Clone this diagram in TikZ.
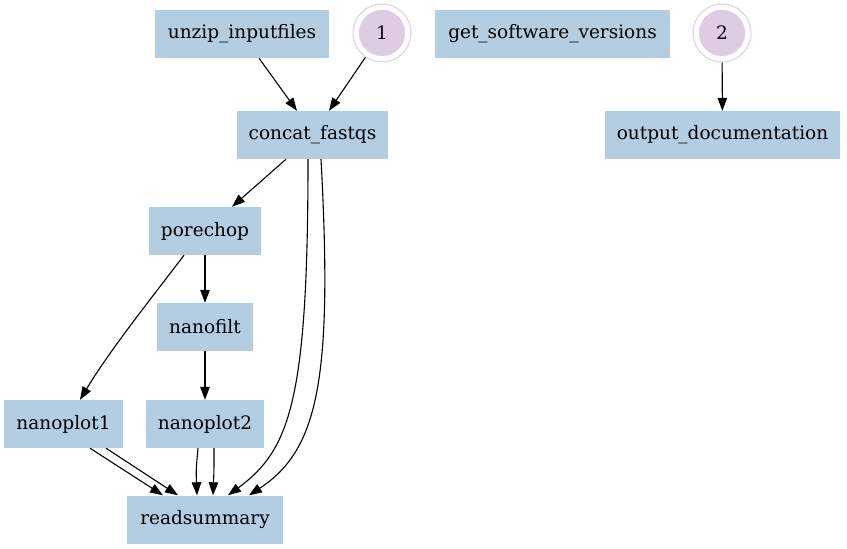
\documentclass[tikz,border=0pt]{standalone}
\usepackage{fontspec}
\setmainfont{DejaVu Serif}
\usetikzlibrary{arrows.meta}
\definecolor{boxblue}{HTML}{B3CDE3}
\definecolor{circpurple}{HTML}{DECBE4}
\begin{document}
\begin{tikzpicture}[x=1pt,y=-1pt,
  task/.style={fill=boxblue,draw=none,inner sep=0pt,minimum height=48pt,font=\fontsize{18.5}{20}\selectfont},
  inp/.style={circle,fill=circpurple,draw=white,line width=1.5pt,minimum size=48pt,inner sep=0pt,font=\fontsize{18.5}{20}\selectfont},
  ring/.style={circle,draw=circpurple,line width=1pt,minimum size=58pt,inner sep=0pt},
  edge/.style={-{Triangle[length=13pt,width=9.5pt]},line width=1.1pt}]
\useasboundingbox (0,0) rectangle (847,549);
\node[task,minimum width=174pt] (unzip) at (242,34) {unzip\_inputfiles};
\node[ring] (r1) at (382,33) {};
\node[inp] (c1) at (382,33) {1};
\node[task,minimum width=235pt] (gsv) at (552.5,34) {get\_software\_versions};
\node[ring] (r2) at (722,33) {};
\node[inp] (c2) at (722,33) {2};
\node[task,minimum width=151pt] (concat) at (312.5,135) {concat\_fastqs};
\node[task,minimum width=235pt] (outdoc) at (722.5,135) {output\_documentation};
\node[task,minimum width=112pt] (porechop) at (205,231) {porechop};
\node[task,minimum width=96pt] (nanofilt) at (205,327) {nanofilt};
\node[task,minimum width=119pt] (np1) at (63.5,424) {nanoplot1};
\node[task,minimum width=118pt] (np2) at (205,424) {nanoplot2};
\node[task,minimum width=156pt] (rs) at (205,519.5) {readsummary};
\draw[edge] (unzip.south -| 259,0) -- (concat.north -| 297,0);
\draw[edge] (r1) -- (concat.north -| 329,0);
\draw[edge] (r2) -- (outdoc);
\draw[edge] (concat.south -| 286,0) -- (porechop.north -| 232,0);
\draw[edge] (concat.south -| 308,0) .. controls (308,400) and (290,450) .. (rs.north -| 228,0);
\draw[edge] (concat.south -| 321,0) .. controls (333,380) and (318,450) .. (rs.north -| 249,0);
\draw[edge] (porechop) -- (nanofilt);
\draw[edge] (porechop.south -| 184,0) .. controls (150,300) and (110,350) .. (np1.north -| 80,0);
\draw[edge] (nanofilt) -- (np2);
\draw[edge] (np1.south -| 90,0) -- (rs.north -| 163,0);
\draw[edge] (np1.south -| 106,0) -- (rs.north -| 178,0);
\draw[edge] (np2.south -| 198,0) .. controls (196,470) .. (rs.north -| 197,0);
\draw[edge] (np2.south -| 214,0) .. controls (214,470) .. (rs.north -| 213,0);
\end{tikzpicture}
\end{document}
